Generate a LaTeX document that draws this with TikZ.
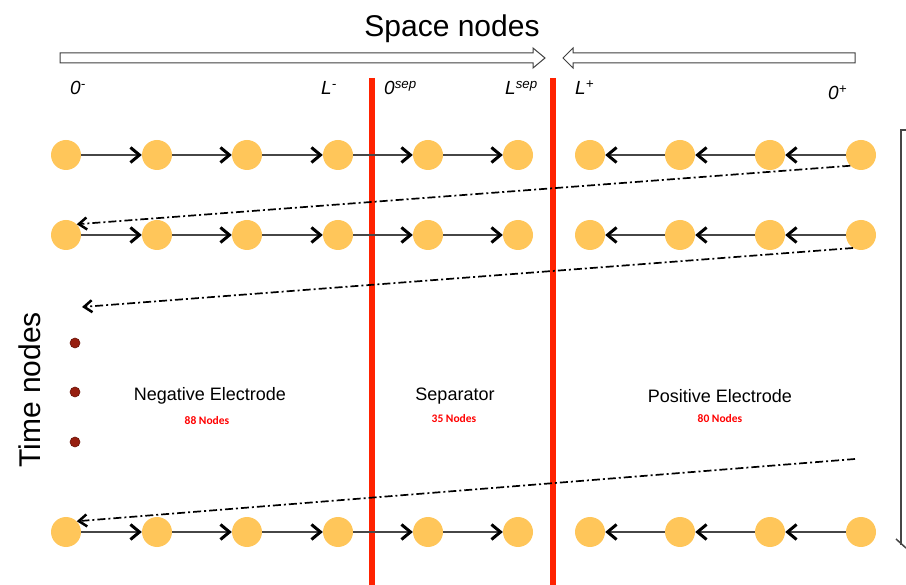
\documentclass[tikz,border=0pt]{standalone}
\usepackage{fontspec}
\setmainfont{Liberation Sans}
\newfontfamily\countfont{Carlito}
\usetikzlibrary{arrows.meta}
\definecolor{nodeorange}{RGB}{255,198,90}
\definecolor{sepred}{RGB}{255,34,0}
\definecolor{dotred}{RGB}{150,30,15}
\definecolor{linkgray}{RGB}{70,70,70}
\tikzset{
  spacenode/.style={circle,fill=nodeorange,minimum size=30pt,inner sep=0pt},
  link/.style={draw=linkgray,line width=1.8pt,-{Straight Barb[length=9pt,width=15pt,line width=3pt,color=black]}},
  jump/.style={draw=black,line width=1.7pt,dash pattern=on 8pt off 3pt on 2pt off 3pt,-{Straight Barb[length=8pt,width=12pt,line width=2.5pt]}},
  sepline/.style={draw=sepred,line width=6pt},
  hollow/.style={draw=black!75,line width=1pt,fill=white},
  poslabel/.style={anchor=base west,font=\itshape\fontsize{19}{21}\selectfont,inner sep=0pt},
  region/.style={font=\fontsize{18}{20}\selectfont,inner sep=0pt},
  count/.style={font=\countfont\bfseries\fontsize{11.5}{13}\selectfont,text=red,inner sep=0pt},
  timedot/.style={circle,fill=dotred,draw=dotred!70!black,line width=0.6pt,minimum size=10pt,inner sep=0pt},
  title/.style={font=\fontsize{30}{34}\selectfont,inner sep=0pt}
}
\begin{document}
\begin{tikzpicture}[x=1pt,y=-1pt]
\useasboundingbox (0,0) rectangle (906,585);
% title and hollow arrows
\node[title,anchor=base] (space) at (452,37) {Space nodes};
\draw[hollow] (60,53) -- (533,53) -- (533,48) -- (545,58) -- (533,68) -- (533,63) -- (60,63) -- cycle;
\draw[hollow] (855,53) -- (573,53) -- (573,48) -- (563,58) -- (573,68) -- (573,63) -- (855,63) -- cycle;
% position labels
\node[poslabel] (l0m) at (70,95) {0\textsuperscript{-}};
\node[poslabel] (lLm) at (321,95) {L\textsuperscript{-}};
\node[poslabel] (l0s) at (384,95) {0\textsuperscript{sep}};
\node[poslabel] (lLs) at (505,95) {L\textsuperscript{sep}};
\node[poslabel] (lLp) at (575,95) {L\textsuperscript{+}};
\node[poslabel] (l0p) at (828,100) {0\textsuperscript{+}};
% separator lines
\draw[sepline] (372,78) -- (372,585);
\draw[sepline] (553,78) -- (553,585);
% space nodes
\foreach \r/\y in {1/155,2/235,3/532} {
  \foreach \c/\x in {1/66,2/157,3/247,4/338,5/428,6/518,7/590,8/680,9/770,10/861} {
    \node[spacenode] (n\r-\c) at (\x,\y) {};
  }
  \foreach \a/\b in {1/2,2/3,3/4,4/5,5/6,10/9,9/8,8/7} {
    \draw[link] (n\r-\a) -- (n\r-\b);
  }
}
% time jumps
\coordinate (j2s) at (853,248);
\coordinate (j2e) at (82,307);
\coordinate (j3s) at (855,459);
\draw[jump] (n1-10.south west) -- (n2-1.north east);
\draw[jump] (j2s) -- (j2e);
\draw[jump] (j3s) -- (n3-1.north east);
% time dots
\node[timedot] (d1) at (75,343) {};
\node[timedot] (d2) at (75,392) {};
\node[timedot] (d3) at (75,442) {};
% time label
\node[title,rotate=90] (time) at (30,390) {Time nodes};
% region labels
\node[region] (neg) at (210,396) {Negative Electrode};
\node[count] (negc) at (207,421) {88 Nodes};
\node[region] (sep) at (455,396) {Separator};
\node[count] (sepc) at (454,419) {35 Nodes};
\node[region] (pos) at (720,396) {Positive Electrode};
\node[count] (posc) at (720,419) {80 Nodes};
% right bracket
\draw[draw=linkgray,line width=1.5pt] (906,130) -- (901,130) -- (901,545);
\draw[draw=linkgray,line width=1.5pt] (896,539) -- (906,548);
\end{tikzpicture}
\end{document}
